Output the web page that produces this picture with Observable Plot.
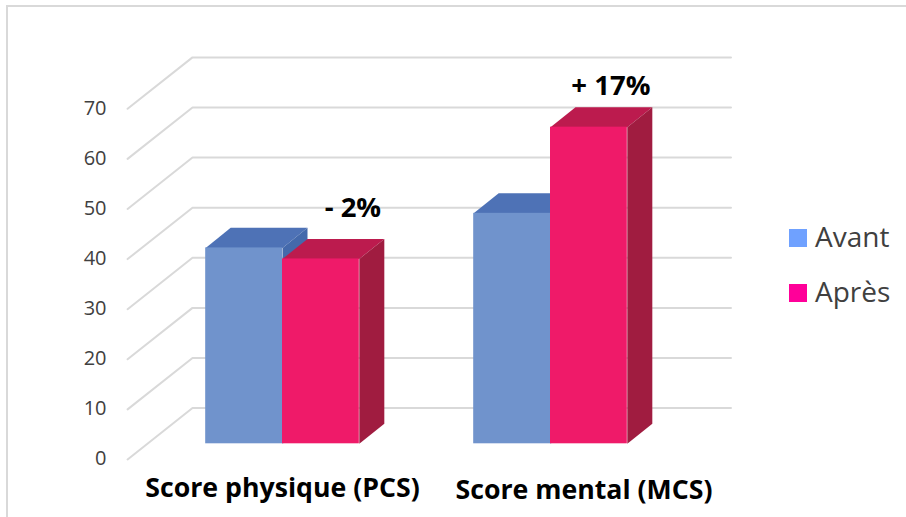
<!DOCTYPE html>
<html lang="fr">
<head>
<meta charset="utf-8">
<title>Score physique et mental, avant et après</title>
<script src="https://cdn.jsdelivr.net/npm/d3@7"></script>
<script src="https://cdn.jsdelivr.net/npm/@observablehq/plot@0.6"></script>
<style>
  html, body { margin: 0; padding: 0; background: #fff; }
  #chart { position: relative; width: 906px; height: 517px; overflow: hidden; font-family: "Open Sans", sans-serif; }
  #chart svg { position: absolute; left: 0; top: 0; }
  #frame { position: absolute; left: 6px; top: 5px; right: -4px; bottom: -4px; border: 2px solid #d9d9d9; }
  .legend-item { position: absolute; left: 789px; display: flex; align-items: center; height: 18px; color: #404040; font-size: 28px; }
  .legend-item i { display: block; width: 18px; height: 18px; margin-right: 8px; flex: none; }
  .legend-item span { position: relative; top: -2px; }
</style>
</head>
<body>
<div id="chart"><div id="frame"></div></div>
<script>
// Chart values
const categories = ["Score physique (PCS)", "Score mental (MCS)"];
const seriesNames = ["Avant", "Après"];
const avant = [39.1, 46.0];
const apres = [36.9, 63.2];
const changes = ["- 2%", "+ 17%"];
const yTicks = [0, 10, 20, 30, 40, 50, 60, 70];

// Scale layout: x is in category units, y in score units
const W = 906, H = 517;
const pxPerCategory = 268, originX = 282;
const pxPerScore = 5.01, baseY = 443.3;
const xDomain = [-originX / pxPerCategory, (W - originX) / pxPerCategory];
const yDomain = [-(H - baseY) / pxPerScore, baseY / pxPerScore];

// Oblique projection: the grid runs from the floor's front edge to the back wall
const barWidth = 0.2866;
const barDepth = {x: 0.0933, y: 4};
const gridFront = {x: -0.578, dy: -3.13};
const gridBack = {x: -0.3358, dy: 7.13};
const gridEnd = 1.6735;

const colors = {
  Avant: {front: "#7093cc", top: "#4e72b6", side: "#4469ab", key: "#6fa1ff"},
  "Après": {front: "#ef1a69", top: "#bc1b4e", side: "#a01c40", key: "#ff0099"}
};

// Each category holds two adjoining bars, one per series
const bars = categories.flatMap((c, i) => [
  {cat: c, series: "Avant", v: avant[i], x0: i - barWidth, x1: i},
  {cat: c, series: "Après", v: apres[i], x0: i, x1: i + barWidth}
]);

const topFace = (b) => [
  [b.x0, b.v], [b.x0 + barDepth.x, b.v + barDepth.y],
  [b.x1 + barDepth.x, b.v + barDepth.y], [b.x1, b.v]
];
const sideFace = (b) => [
  [b.x1, 0], [b.x1 + barDepth.x, barDepth.y],
  [b.x1 + barDepth.x, b.v + barDepth.y], [b.x1, b.v]
];
const polygon = (points, fill) => Plot.line(points, {x: "0", y: "1", fill, stroke: "none"});

// One polyline per tick: the diagonal up the side wall, then along the back wall
const gridRows = yTicks.flatMap((t) => [
  {t, x: gridFront.x, y: t + gridFront.dy},
  {t, x: gridBack.x, y: t + gridBack.dy},
  {t, x: gridEnd, y: t + gridBack.dy}
]);

const barMarks = bars.flatMap((b) => [
  polygon(topFace(b), colors[b.series].top),
  polygon(sideFace(b), colors[b.series].side)
]);

const textFont = {fontFamily: "'Open Sans', sans-serif"};

const plot = Plot.plot({
  width: W,
  height: H,
  margin: 0,
  style: {background: "transparent", overflow: "visible"},
  x: {type: "linear", domain: xDomain, range: [0, W], axis: null},
  y: {type: "linear", domain: yDomain, range: [H, 0]},
  marks: [
    Plot.axisY(yTicks, {
      anchor: "left", label: null, tickSize: 0, tickPadding: 0, dx: 106, dy: 15,
      fontSize: 20, fill: "#404040", ...textFont
    }),
    Plot.line(gridRows, {x: "x", y: "y", z: "t", stroke: "#d9d9d9", strokeWidth: 2}),
    ...barMarks,
    Plot.rect(bars, {
      x1: "x0", x2: "x1", y1: 0, y2: "v",
      fill: (d) => colors[d.series].front, inset: 0
    }),
    // Change labels sit above each "Après" bar
    Plot.text([bars[3]], {
      x: (d) => (d.x0 + d.x1) / 2, y: "v", text: () => changes[1],
      dx: 22, dy: -41, fontSize: 27.5, fontWeight: 700, fill: "#000", ...textFont
    }),
    Plot.text([bars[1]], {
      x: (d) => (d.x0 + d.x1) / 2, y: "v", text: () => changes[0],
      dx: 32, dy: -51, fontSize: 27.5, fontWeight: 700, fill: "#000", ...textFont
    }),
    // Category labels along the bottom
    Plot.text([categories[0]], {
      x: () => 0, frameAnchor: "bottom", text: (d) => d,
      dy: -21, fontSize: 26.7, fontWeight: 700, fill: "#000", ...textFont
    }),
    Plot.text([categories[1]], {
      x: () => 1, frameAnchor: "bottom", text: (d) => d,
      dx: 33.5, dy: -19, fontSize: 26.7, fontWeight: 700, fill: "#000", ...textFont
    })
  ]
});

const chart = document.getElementById("chart");
chart.appendChild(plot);

// Legend to the right of the plot
seriesNames.forEach((name, i) => {
  const item = document.createElement("div");
  item.className = "legend-item";
  item.style.top = (229 + i * 55) + "px";
  const swatch = document.createElement("i");
  swatch.style.background = colors[name].key;
  const label = document.createElement("span");
  label.textContent = name;
  item.append(swatch, label);
  chart.appendChild(item);
});
</script>
</body>
</html>
